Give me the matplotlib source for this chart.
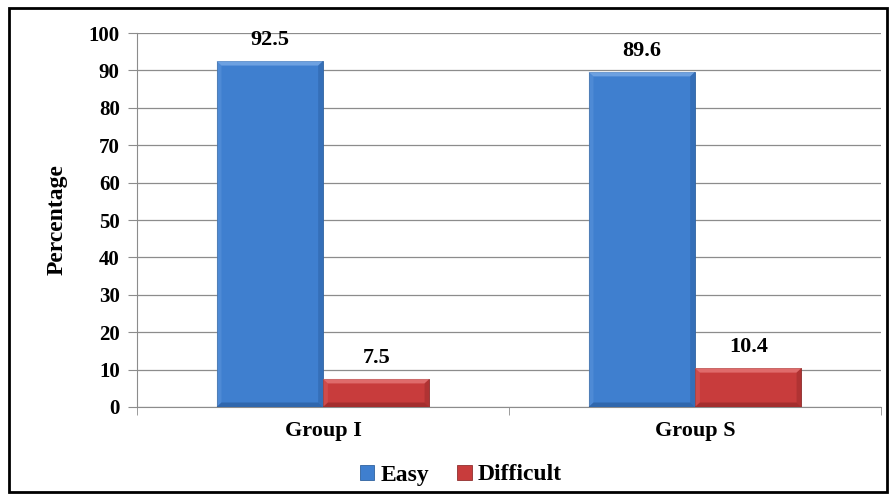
import numpy as np
import matplotlib.pyplot as plt
from matplotlib.patches import Rectangle, Polygon

groups = ['Group I', 'Group S']
easy = [92.5, 89.6]
difficult = [7.5, 10.4]
yticks = [0, 10, 20, 30, 40, 50, 60, 70, 80, 90, 100]

plt.rcParams['font.family'] = 'Liberation Serif'
plt.rcParams['font.weight'] = 'bold'

fig = plt.figure(figsize=(8.96, 5.01), dpi=100)
ax = fig.add_axes([137/896, 1 - 407/501, 744/896, 374/501])

x = np.arange(len(groups))
w = 0.286
b1 = ax.bar(x - w/2, easy, w, color='#3F7FCF', edgecolor='#30629F', linewidth=0.6, label='Easy', zorder=3)
b2 = ax.bar(x + w/2, difficult, w, color='#C83C3C', edgecolor='#90302F', linewidth=0.6, label='Difficult', zorder=3)

ax.set_ylim(0, 100)
ax.set_xlim(-0.5, 1.5)


def bevel(rect, light, dark):
    # bevelled edges: light on top/left, dark on right/bottom
    x0, y0 = rect.get_x(), rect.get_y()
    x1, y1 = x0 + rect.get_width(), y0 + rect.get_height()
    dx, dy = 0.013, 1.2
    dy = min(dy, (y1 - y0) / 3)
    faces = [
        ([(x0, y1), (x1, y1), (x1 - dx, y1 - dy), (x0 + dx, y1 - dy)], light, 0.6),
        ([(x0, y0), (x0, y1), (x0 + dx, y1 - dy), (x0 + dx, y0 + dy)], light, 0.2),
        ([(x1, y0), (x1, y1), (x1 - dx, y1 - dy), (x1 - dx, y0 + dy)], dark, 0.3),
        ([(x0, y0), (x1, y0), (x1 - dx, y0 + dy), (x0 + dx, y0 + dy)], dark, 0.45),
    ]
    for pts, c, a in faces:
        ax.add_patch(Polygon(pts, closed=True, facecolor=c, edgecolor='none', alpha=a, zorder=4))


for r in b1:
    bevel(r, '#8DB8EE', '#1F4A85')
for r in b2:
    bevel(r, '#F08C8C', '#7A1F1F')

# value labels above each bar
for bars, vals in ((b1, easy), (b2, difficult)):
    for r, v in zip(bars, vals):
        ax.text(r.get_x() + r.get_width()/2, v + 3.0, f'{v}', ha='center', va='bottom',
                fontsize=16, fontweight='bold')

ax.set_yticks(yticks)
ax.set_xticks(x)
ax.set_xticklabels(groups, fontsize=16, fontweight='bold')
ax.set_xticks([-0.5, 0.5, 1.5], minor=True)
ax.tick_params(axis='x', which='major', length=0, pad=10)
ax.tick_params(axis='x', which='minor', length=6, color='#8C8C8C')
ax.tick_params(axis='y', length=6.5, color='#8C8C8C', labelsize=15, pad=6)
for lbl in ax.get_yticklabels():
    lbl.set_fontweight('bold')

ax.yaxis.grid(True, color='#8C8C8C', linewidth=0.9, zorder=0)
ax.set_axisbelow(True)
for s in ('top', 'right'):
    ax.spines[s].set_visible(False)
ax.spines['left'].set_color('#8C8C8C')
ax.spines['bottom'].set_color('#8C8C8C')

ax.set_ylabel('Percentage', fontsize=17, fontweight='bold', labelpad=15)

fig.legend(handles=[b1, b2], loc='center', bbox_to_anchor=(461/896, 1 - 475/501),
           ncol=2, frameon=False, fontsize=17, handlelength=0.6, handleheight=0.6,
           handletextpad=0.25, columnspacing=1.2)

# outer frame around the whole chart
fig.patches.append(Rectangle((9/896, 9/501), 878/896, 484/501, transform=fig.transFigure,
                             fill=False, edgecolor='black', linewidth=2))

fig.savefig('out.png', dpi=100)
